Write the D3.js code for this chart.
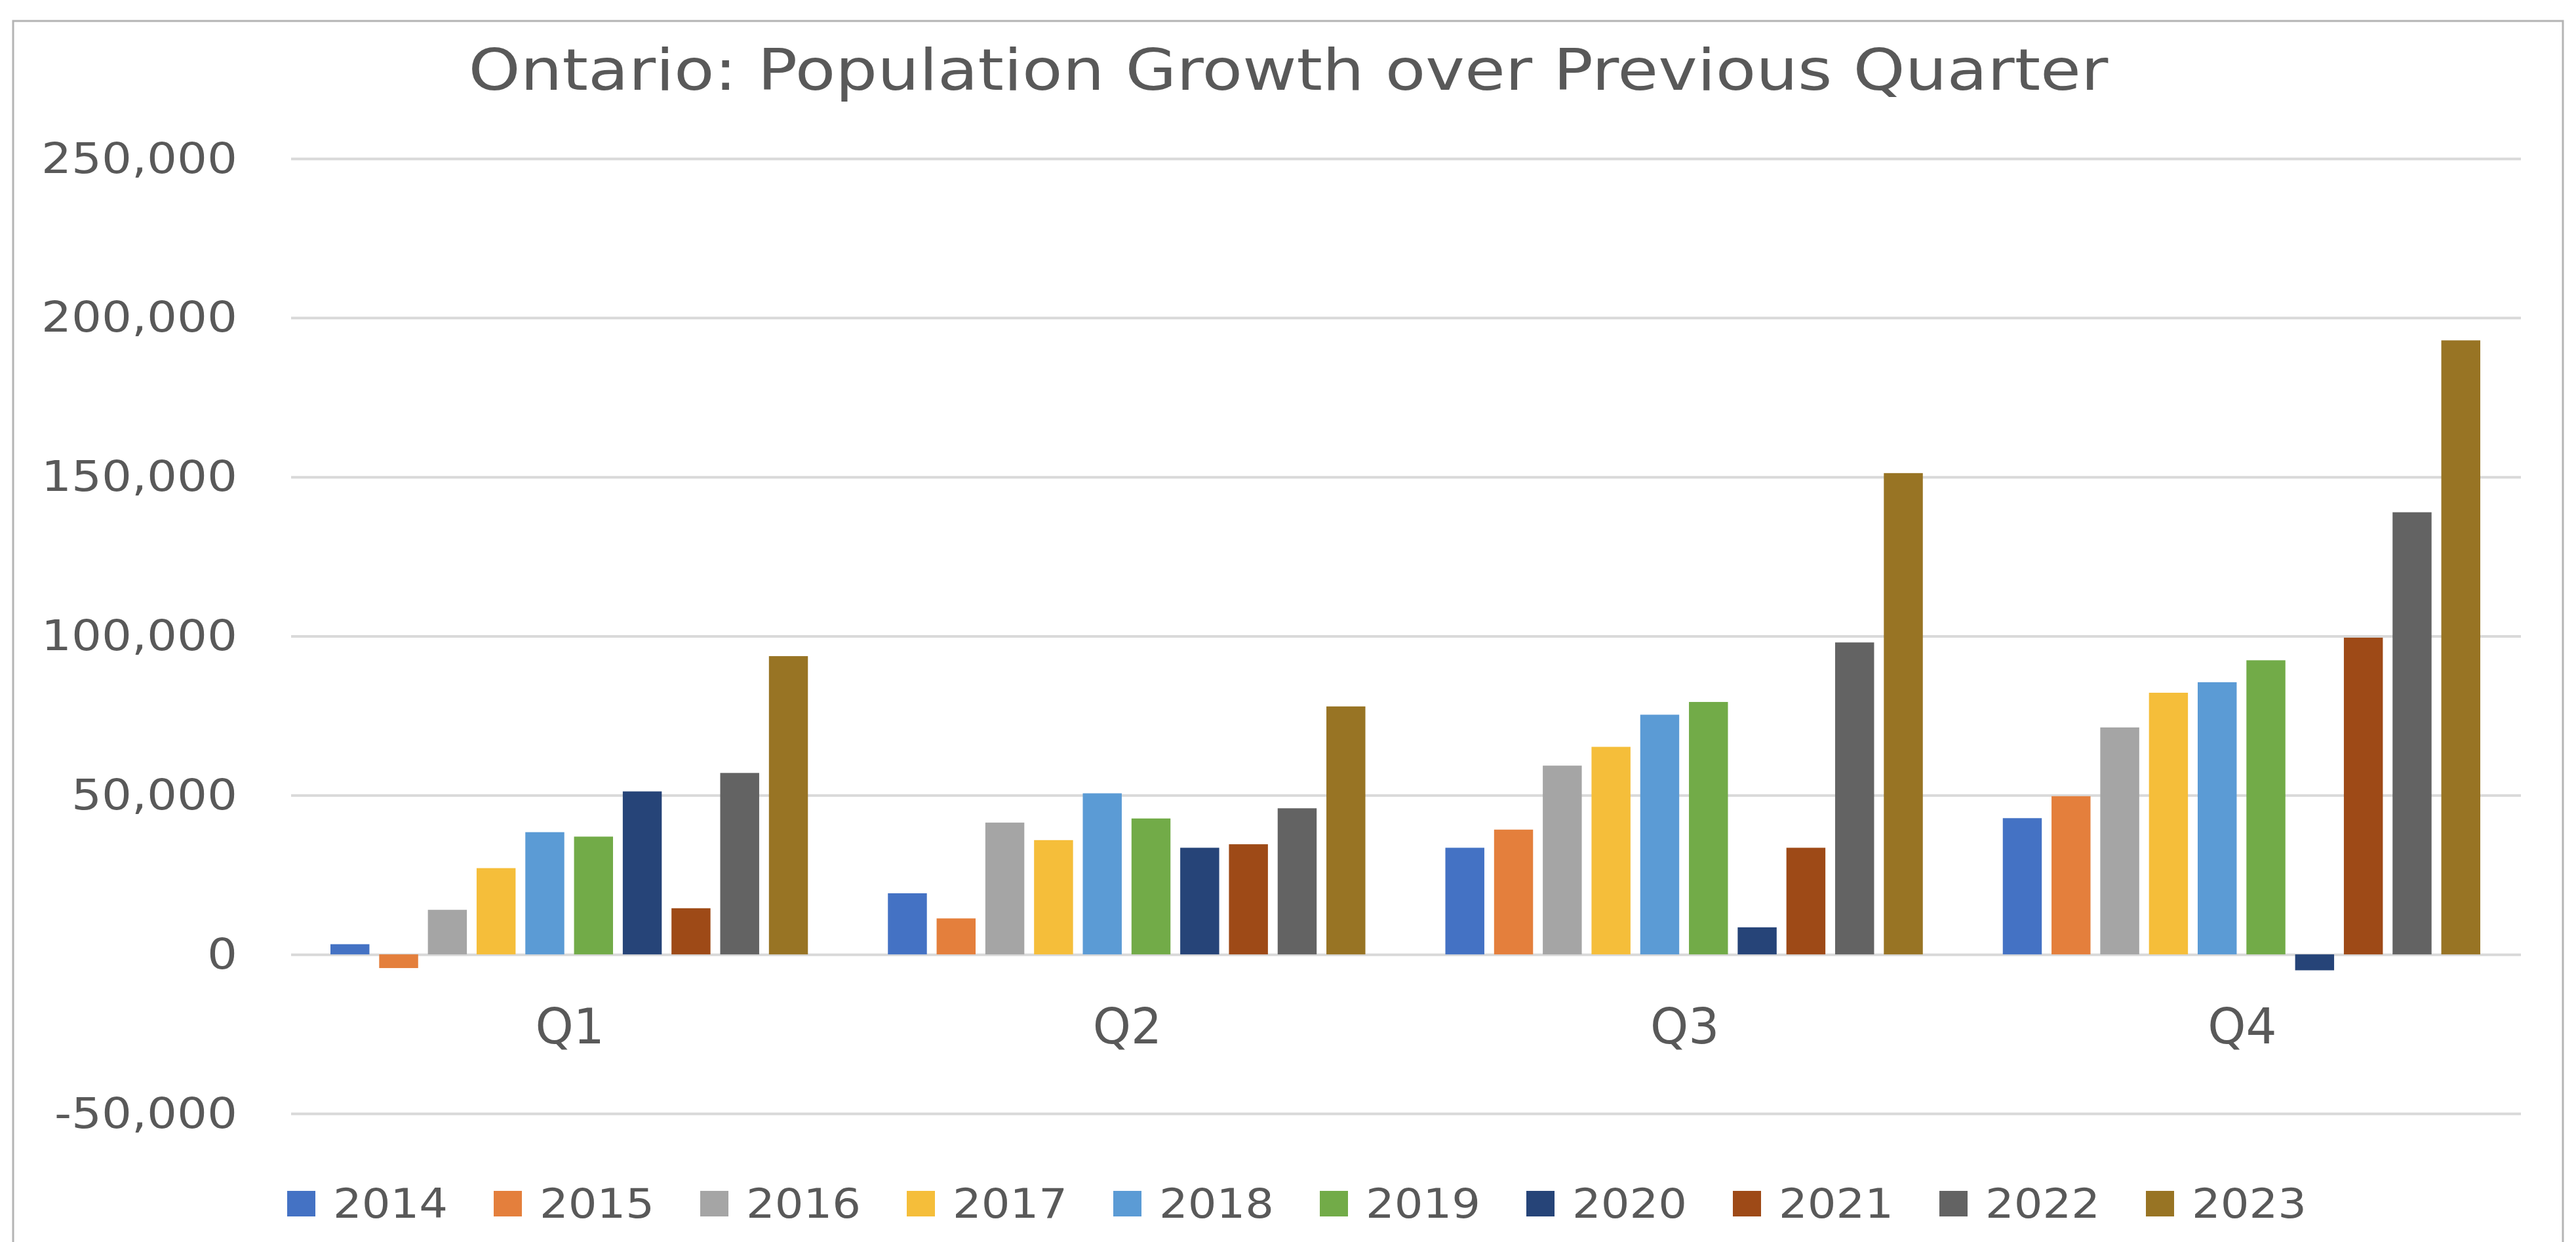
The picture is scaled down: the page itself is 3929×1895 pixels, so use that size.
<!DOCTYPE html>
<html>
<head>
<meta charset="utf-8">
<script src="https://cdn.jsdelivr.net/npm/d3@7/dist/d3.min.js"></script>
<style>
  html, body { margin: 0; padding: 0; background: #ffffff; }
  svg { display: block; }
</style>
</head>
<body>
<script>

// chart data
var quarters = ["Q1", "Q2", "Q3", "Q4"];
var years = ["2014", "2015", "2016", "2017", "2018", "2019", "2020", "2021", "2022", "2023"];

var growth_2014 = [3200, 19200, 33500, 42800];
var growth_2015 = [-4300, 11300, 39200, 49700];
var growth_2016 = [14000, 41400, 59300, 71300];
var growth_2017 = [27100, 35900, 65200, 82200];
var growth_2018 = [38400, 50600, 75300, 85500];
var growth_2019 = [37000, 42700, 79300, 92400];
var growth_2020 = [51200, 33500, 8500, -5000];
var growth_2021 = [14500, 34600, 33500, 99500];
var growth_2022 = [57000, 45900, 98000, 138900];
var growth_2023 = [93700, 77900, 151200, 192900];

var y_ticks = [-50000, 0, 50000, 100000, 150000, 200000, 250000];

var year_colors = ["#4472C4", "#E47F3C", "#A5A5A5", "#F5BE3A", "#5B9BD5",
                   "#72AB48", "#264478", "#9E4A17", "#636363", "#987424"];

var chart_title = "Ontario: Population Growth over Previous Quarter";

// build rows (one per year and quarter) from the arrays above
var series = [growth_2014, growth_2015, growth_2016, growth_2017, growth_2018,
              growth_2019, growth_2020, growth_2021, growth_2022, growth_2023];

var rows = [];
quarters.forEach(function(q, qi) {
  years.forEach(function(yr, yi) {
    rows.push({quarter: q, year: yr, value: series[yi][qi]});
  });
});

// layout
var par = {
  w: 3929, h: 1895,
  left: 444, right: 3845,
  top: 242, bottom: 1699,
  font: "'DejaVu Sans', 'Liberation Sans', sans-serif",
  text_color: "#595959",
  grid_color: "#d9d9d9",
  stretch: 1.13   // the original face is wider than DejaVu
};

var svg = d3.select("body").append("svg")
  .attr("width", par.w)
  .attr("height", par.h);

svg.append("rect")
  .attr("x", 0).attr("y", 0).attr("width", par.w).attr("height", par.h)
  .style("fill", "#ffffff");

// outer frame
svg.append("rect")
  .attr("x", 20).attr("y", 32).attr("width", 3889).attr("height", 1900)
  .style("fill", "none").style("stroke", "#b4b4b4").style("stroke-width", 3);

// scales
var x0 = d3.scaleBand().domain(quarters).range([par.left, par.right]).padding(0);
var x1 = d3.scaleBand().domain(years)
  .range([60, x0.bandwidth() - 62])
  .paddingInner(0.2).paddingOuter(0);
var y = d3.scaleLinear().domain([-50000, 250000]).range([par.bottom, par.top]);
var color = d3.scaleOrdinal().domain(years).range(year_colors);

var fmt = d3.formatLocale({decimal: ".", thousands: ",", grouping: [3], currency: ["", ""], minus: "-"}).format(",");

// y axis with gridlines
var y_axis = svg.append("g")
  .attr("transform", "translate(" + par.left + ",0)")
  .call(d3.axisLeft(y)
    .tickValues(y_ticks)
    .tickFormat(fmt)
    .tickSize(-(par.right - par.left)));

y_axis.select(".domain").remove();
y_axis.selectAll(".tick line")
  .style("stroke", par.grid_color)
  .style("stroke-width", 4);
y_axis.selectAll(".tick text")
  .attr("x", 0)
  .attr("dy", "0.33em")
  .attr("transform", "translate(-82,0) scale(" + par.stretch + ",1)")
  .style("font-family", par.font)
  .style("font-size", "64px")
  .style("fill", par.text_color);

// bars
svg.append("g").selectAll("rect")
  .data(rows)
  .join("rect")
  .attr("x", function(d) { return x0(d.quarter) + x1(d.year); })
  .attr("width", x1.bandwidth())
  .attr("y", function(d) { return y(Math.max(0, d.value)); })
  .attr("height", function(d) { return Math.abs(y(d.value) - y(0)); })
  .style("fill", function(d) { return color(d.year); });

// category labels
var x_axis = svg.append("g")
  .attr("transform", "translate(0," + y(0) + ")")
  .call(d3.axisBottom(x0).tickSize(0).tickPadding(83));

x_axis.select(".domain").remove();
x_axis.selectAll(".tick text")
  .style("font-family", par.font)
  .style("font-size", "74px")
  .style("fill", par.text_color);

// title
svg.append("text")
  .attr("transform", "translate(1965,137) scale(1.144,1)")
  .attr("text-anchor", "middle")
  .style("font-family", par.font)
  .style("font-size", "88px")
  .style("fill", par.text_color)
  .text(chart_title);

// legend
var legend = svg.append("g")
  .attr("transform", "translate(438,1817)");

var item = legend.selectAll("g")
  .data(years)
  .join("g")
  .attr("transform", function(d, i) { return "translate(" + (i * 315) + ",0)"; });

item.append("rect")
  .attr("x", 0).attr("y", 0).attr("width", 43).attr("height", 39)
  .style("fill", function(d) { return color(d); });

item.append("text")
  .attr("transform", "translate(70,41) scale(1.11,1)")
  .style("font-family", par.font)
  .style("font-size", "62px")
  .style("fill", par.text_color)
  .text(function(d) { return d; });

</script>
</body>
</html>
